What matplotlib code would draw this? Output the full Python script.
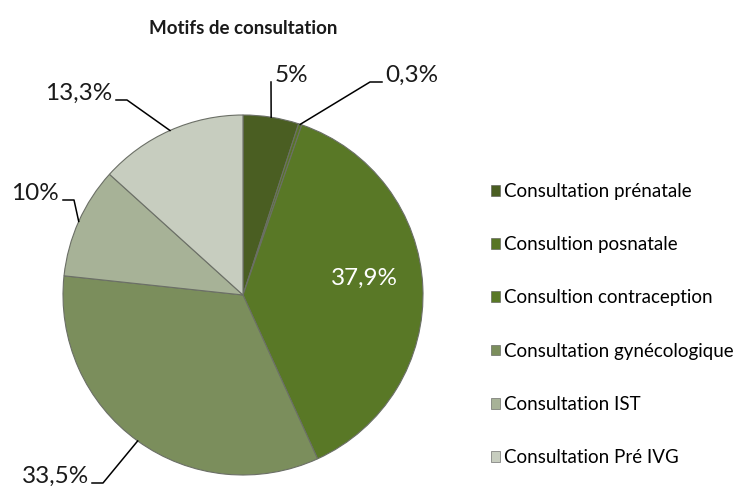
import matplotlib
matplotlib.use("Agg")
import matplotlib.pyplot as plt
import matplotlib.patches as mpatches
import numpy as np

categories = ["Consultation prénatale", "Consultion posnatale", "Consultion contraception",
              "Consultation gynécologique", "Consultation IST", "Consultation Pré IVG"]
values = [5, 0.3, 37.9, 33.5, 10, 13.3]
value_labels = ["5%", "0,3%", "37,9%", "33,5%", "10%", "13,3%"]
colors = ["#4a5e22", "#587525", "#597826", "#7b8e5c", "#a7b297", "#c7cdbf"]

plt.rcParams['font.family'] = ['Lato', 'DejaVu Sans']

W, H = 747, 486
fig = plt.figure(figsize=(W / 100, H / 100), dpi=100)
ax = fig.add_axes([0, 0, 1, 1])
cx, cy, R = 243, 295, 180  # pixel centre / radius of the pie


def px(x, y):
    return ((x - cx) / R, (cy - y) / R)


wedges, _ = ax.pie(values, colors=colors, startangle=90, counterclock=False, radius=1,
                   wedgeprops=dict(edgecolor="#6b6f66", linewidth=0.8))
ax.set_xlim(-cx / R, (W - cx) / R)
ax.set_ylim(-(H - cy) / R, cy / R)
ax.set_aspect('equal')
ax.axis('off')

# label layout: (elbow point px, line end px, label anchor px, ha)
layout = [
    (None, (271, 82), (275, 82), 'left'),
    ((370, 82), (382, 82), (385, 82), 'left'),
    (None, None, (364, 278), 'center'),
    ((103, 483), (92, 483), (89, 483), 'right'),
    ((74, 200), (63, 200), (59, 200), 'right'),
    ((127, 100), (116, 100), (112, 100), 'right'),
]

lfs = 17.5
for w, lab, (elbow, end, txt, ha) in zip(wedges, value_labels, layout):
    mid = np.deg2rad((w.theta1 + w.theta2) / 2)
    ex, ey = np.cos(mid), np.sin(mid)
    if end is None:
        tx, ty = px(*txt)
        ax.text(tx, ty, lab, ha='center', va='center', fontsize=lfs, color='white')
        continue
    pts = [(ex, ey)]
    if elbow is not None:
        pts.append(px(*elbow))
    pts.append(px(*end))
    xs, ys = zip(*pts)
    ax.plot(xs, ys, color='black', lw=1.1, clip_on=False)
    tx, ty = px(*txt)
    ax.text(tx, ty, lab, ha=ha, va='baseline', fontsize=lfs, color='#1a1a1a')

fig.text(243 / W, 1 - 28 / H, "Motifs de consultation", ha='center', va='center',
         fontsize=13.5, fontweight='bold', color='#1a1a1a')

handles = [mpatches.Patch(facecolor=c, edgecolor='#555555', linewidth=0.4) for c in colors]
fs = 13.5
fig.legend(handles, categories, loc='center left',
           bbox_to_anchor=(491 / W, 1 - (187 + 462) / 2 / H),
           frameon=False, fontsize=fs, borderpad=0, borderaxespad=0,
           handlelength=0.5, handleheight=0.5, handletextpad=0.2,
           labelspacing=55 / (fs * 100 / 72) - 1)

fig.savefig("out.png", dpi=100)
